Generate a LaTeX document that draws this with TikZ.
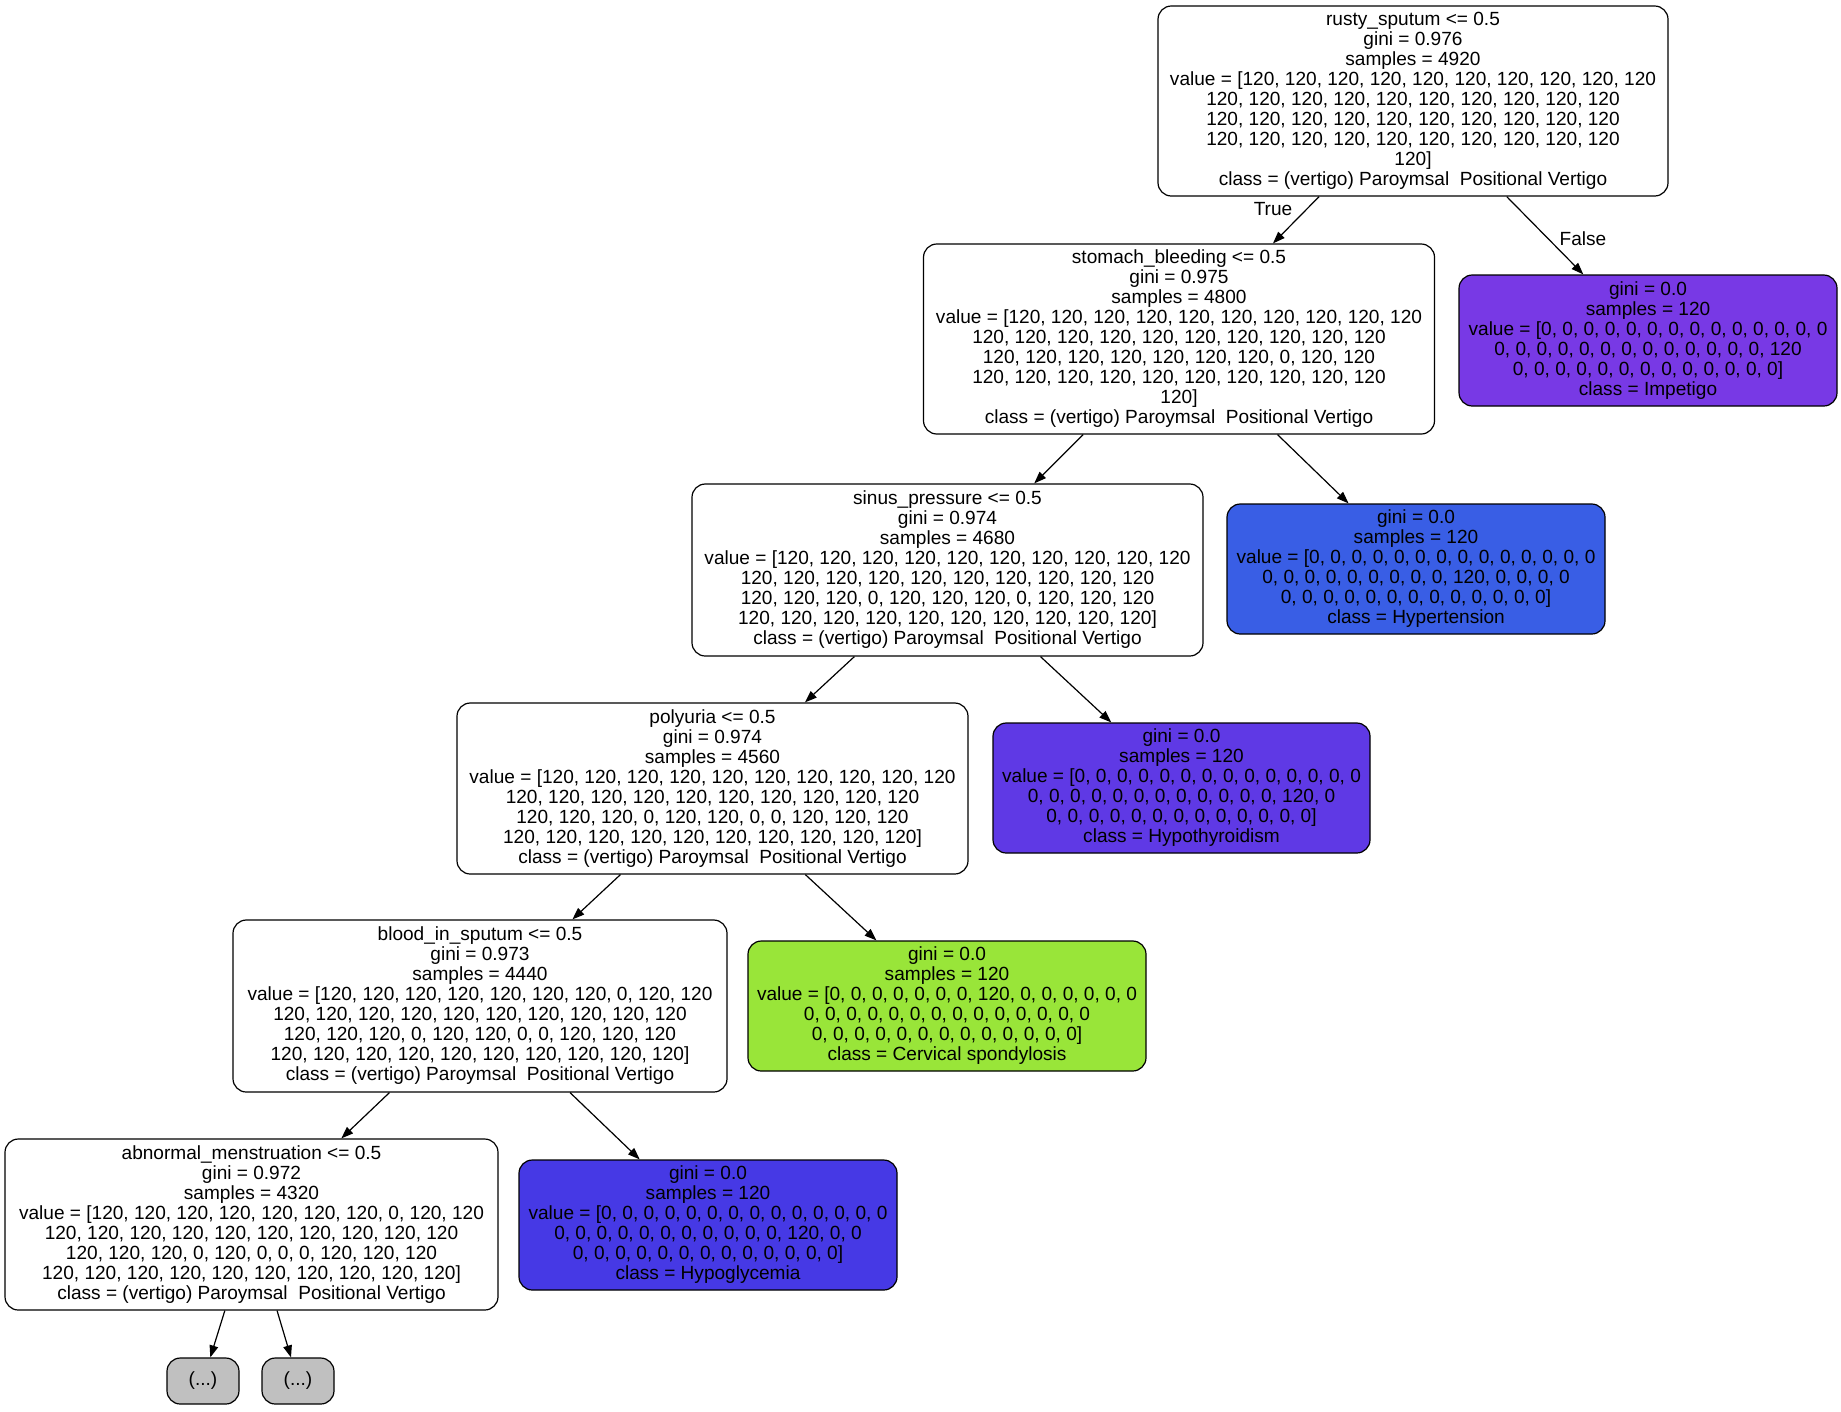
\documentclass[tikz,border=0pt]{standalone}
\usepackage{fontspec}
\setmainfont{Liberation Sans}
\usetikzlibrary{arrows.meta}

% class colours of the leaves
\definecolor{cImpetigo}{HTML}{7839E5}
\definecolor{cHypertension}{HTML}{395EE5}
\definecolor{cHypothyroidism}{HTML}{5F39E5}
\definecolor{cCervical}{HTML}{99E539}
\definecolor{cHypoglycemia}{HTML}{4639E5}
\definecolor{cPruned}{HTML}{C0C0C0}

\tikzset{
  treenode/.style 2 args={draw=black, line width=0.9pt, rounded corners=10pt,
    align=center, inner sep=0pt, font=\fontsize{14.3}{15}\selectfont,
    minimum width=#1*0.75pt, minimum height=#2*0.75pt},
  edge/.style={draw=black, line width=0.9pt, -{Triangle[length=9pt, width=6.5pt]}},
  edgelabel/.style={font=\fontsize{14.3}{15}\selectfont, inner sep=0pt}
}

\begin{document}
\begin{tikzpicture}[x=0.75pt, y=-0.75pt]
  \useasboundingbox[fill=white] (0,0) rectangle (1841,1411);

  % split nodes
  \node[treenode={510}{190}, fill=white] (root) at (1413,101)
    {rusty\_sputum <= 0.5\\gini = 0.976\\samples = 4920\\
     value = [120, 120, 120, 120, 120, 120, 120, 120, 120, 120\\
     120, 120, 120, 120, 120, 120, 120, 120, 120, 120\\
     120, 120, 120, 120, 120, 120, 120, 120, 120, 120\\
     120, 120, 120, 120, 120, 120, 120, 120, 120, 120\\
     120]\\class = (vertigo) Paroymsal\ \ Positional Vertigo};

  \node[treenode={511}{190}, fill=white] (stomach) at (1179,339)
    {stomach\_bleeding <= 0.5\\gini = 0.975\\samples = 4800\\
     value = [120, 120, 120, 120, 120, 120, 120, 120, 120, 120\\
     120, 120, 120, 120, 120, 120, 120, 120, 120, 120\\
     120, 120, 120, 120, 120, 120, 120, 0, 120, 120\\
     120, 120, 120, 120, 120, 120, 120, 120, 120, 120\\
     120]\\class = (vertigo) Paroymsal\ \ Positional Vertigo};

  \node[treenode={511}{172}, fill=white] (sinus) at (947.5,570)
    {sinus\_pressure <= 0.5\\gini = 0.974\\samples = 4680\\
     value = [120, 120, 120, 120, 120, 120, 120, 120, 120, 120\\
     120, 120, 120, 120, 120, 120, 120, 120, 120, 120\\
     120, 120, 120, 0, 120, 120, 120, 0, 120, 120, 120\\
     120, 120, 120, 120, 120, 120, 120, 120, 120, 120]\\
     class = (vertigo) Paroymsal\ \ Positional Vertigo};

  \node[treenode={511}{171}, fill=white] (polyuria) at (712.5,788.5)
    {polyuria <= 0.5\\gini = 0.974\\samples = 4560\\
     value = [120, 120, 120, 120, 120, 120, 120, 120, 120, 120\\
     120, 120, 120, 120, 120, 120, 120, 120, 120, 120\\
     120, 120, 120, 0, 120, 120, 0, 0, 120, 120, 120\\
     120, 120, 120, 120, 120, 120, 120, 120, 120, 120]\\
     class = (vertigo) Paroymsal\ \ Positional Vertigo};

  \node[treenode={494}{172}, fill=white] (blood) at (480,1006)
    {blood\_in\_sputum <= 0.5\\gini = 0.973\\samples = 4440\\
     value = [120, 120, 120, 120, 120, 120, 120, 0, 120, 120\\
     120, 120, 120, 120, 120, 120, 120, 120, 120, 120\\
     120, 120, 120, 0, 120, 120, 0, 0, 120, 120, 120\\
     120, 120, 120, 120, 120, 120, 120, 120, 120, 120]\\
     class = (vertigo) Paroymsal\ \ Positional Vertigo};

  \node[treenode={493}{171}, fill=white] (abnormal) at (251.5,1224.5)
    {abnormal\_menstruation <= 0.5\\gini = 0.972\\samples = 4320\\
     value = [120, 120, 120, 120, 120, 120, 120, 0, 120, 120\\
     120, 120, 120, 120, 120, 120, 120, 120, 120, 120\\
     120, 120, 120, 0, 120, 0, 0, 0, 120, 120, 120\\
     120, 120, 120, 120, 120, 120, 120, 120, 120, 120]\\
     class = (vertigo) Paroymsal\ \ Positional Vertigo};

  % pure leaves
  \node[treenode={378}{131}, fill=cImpetigo] (impetigo) at (1648,340.5)
    {gini = 0.0\\samples = 120\\
     value = [0, 0, 0, 0, 0, 0, 0, 0, 0, 0, 0, 0, 0, 0\\
     0, 0, 0, 0, 0, 0, 0, 0, 0, 0, 0, 0, 0, 120\\
     0, 0, 0, 0, 0, 0, 0, 0, 0, 0, 0, 0, 0]\\class = Impetigo};

  \node[treenode={378}{130}, fill=cHypertension] (hypertension) at (1416,569)
    {gini = 0.0\\samples = 120\\
     value = [0, 0, 0, 0, 0, 0, 0, 0, 0, 0, 0, 0, 0, 0\\
     0, 0, 0, 0, 0, 0, 0, 0, 0, 120, 0, 0, 0, 0\\
     0, 0, 0, 0, 0, 0, 0, 0, 0, 0, 0, 0, 0]\\class = Hypertension};

  \node[treenode={377}{130}, fill=cHypothyroidism] (hypothyroidism) at (1181.5,788)
    {gini = 0.0\\samples = 120\\
     value = [0, 0, 0, 0, 0, 0, 0, 0, 0, 0, 0, 0, 0, 0\\
     0, 0, 0, 0, 0, 0, 0, 0, 0, 0, 0, 0, 120, 0\\
     0, 0, 0, 0, 0, 0, 0, 0, 0, 0, 0, 0, 0]\\class = Hypothyroidism};

  \node[treenode={398}{130}, fill=cCervical] (cervical) at (947,1006)
    {gini = 0.0\\samples = 120\\
     value = [0, 0, 0, 0, 0, 0, 0, 120, 0, 0, 0, 0, 0, 0\\
     0, 0, 0, 0, 0, 0, 0, 0, 0, 0, 0, 0, 0, 0\\
     0, 0, 0, 0, 0, 0, 0, 0, 0, 0, 0, 0, 0]\\class = Cervical spondylosis};

  \node[treenode={378}{130}, fill=cHypoglycemia] (hypoglycemia) at (708,1225)
    {gini = 0.0\\samples = 120\\
     value = [0, 0, 0, 0, 0, 0, 0, 0, 0, 0, 0, 0, 0, 0\\
     0, 0, 0, 0, 0, 0, 0, 0, 0, 0, 0, 120, 0, 0\\
     0, 0, 0, 0, 0, 0, 0, 0, 0, 0, 0, 0, 0]\\class = Hypoglycemia};

  % truncated subtrees
  \node[treenode={72}{46}, fill=cPruned] (more1) at (203,1381) {(...)};
  \node[treenode={72}{46}, fill=cPruned] (more2) at (298,1381) {(...)};

  % connectors
  \draw[edge] (root) -- (stomach);
  \draw[edge] (root) -- (impetigo);
  \draw[edge] (stomach) -- (sinus);
  \draw[edge] (stomach) -- (hypertension);
  \draw[edge] (sinus) -- (polyuria);
  \draw[edge] (sinus) -- (hypothyroidism);
  \draw[edge] (polyuria) -- (blood);
  \draw[edge] (polyuria) -- (cervical);
  \draw[edge] (blood) -- (abnormal);
  \draw[edge] (blood) -- (hypoglycemia);
  \draw[edge] (abnormal) -- (more1);
  \draw[edge] (abnormal) -- (more2);

  % branch labels
  \node[edgelabel] (truelbl) at (1273,209) {True};
  \node[edgelabel] (falselbl) at (1583,239) {False};
\end{tikzpicture}
\end{document}
